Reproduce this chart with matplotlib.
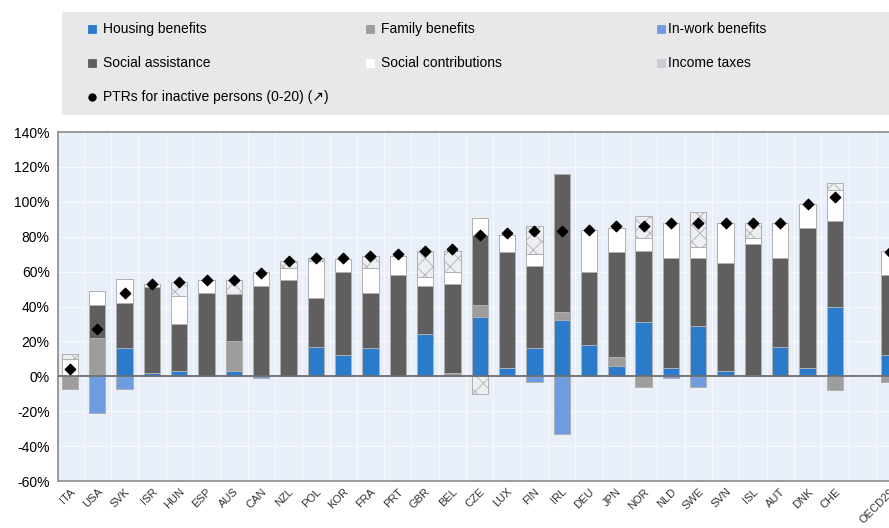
import matplotlib.pyplot as plt
from matplotlib.patches import Rectangle
import numpy as np

plt.rcParams['font.family'] = ['Liberation Sans Narrow', 'Liberation Sans', 'DejaVu Sans']
plt.rcParams['hatch.color'] = '#8d9bb3'
plt.rcParams['hatch.linewidth'] = 0.6

countries = ['ITA', 'USA', 'SVK', 'ISR', 'HUN', 'ESP', 'AUS', 'CAN', 'NZL', 'POL',
             'KOR', 'FRA', 'PRT', 'GBR', 'BEL', 'CZE', 'LUX', 'FIN', 'IRL', 'DEU',
             'JPN', 'NOR', 'NLD', 'SWE', 'SVN', 'ISL', 'AUT', 'DNK', 'CHE', 'OECD29']

housing = [0, 0, 16, 2, 3, 0, 3, 0, 0, 17, 12, 16, 0, 24, 0, 34, 5, 16, 32, 18,
           6, 31, 5, 29, 3, 1, 17, 5, 40, 12]
family = [-7, 22, 0, 0, 0, 0, 17, 0, 0, 0, 0, 0, 0, 0, 2, 7, 0, 0, 5, 0,
          5, -6, 0, 0, 0, 0, 0, 0, -8, -3]
inwork = [0, -21, -7, 0, 0, 0, 0, -1, 0, 0, 0, 0, 0, 0, 0, 0, 0, -3, -33, 0,
          0, 0, -1, -6, 0, 0, 0, 0, 0, 0]
social_assist = [0, 19, 26, 49, 27, 48, 27, 52, 55, 28, 48, 32, 58, 28, 51, 40, 66, 47, 79, 42,
                 60, 41, 63, 39, 62, 75, 51, 80, 49, 46]
social_contrib = [10, 8, 14, 2, 16, 7, 0, 8, 7, 21, 7, 14, 11, 5, 7, 10, 10, 7, 0, 24,
                  14, 7, 20, 6, 23, 3, 20, 14, 18, 14]
income_tax = [3, 0, 0, 0, 8, 0, 8, 0, 4, 2, 0, 7, 0, 15, 12, -10, 0, 16, 0, 0,
              0, 13, 0, 20, 0, 9, 0, 0, 4, 0]
ptr_inactive = [4, 27, 48, 53, 54, 55, 55, 59, 66, 68, 68, 69, 70, 72, 73, 81, 82, 83, 83, 84,
                86, 86, 88, 88, 88, 88, 88, 99, 103, 71]

components = [
    ('Housing benefits', housing, dict(color='#2b7bcc')),
    ('Family benefits', family, dict(color='#9d9d9d')),
    ('In-work benefits', inwork, dict(color='#6f9be0')),
    ('Social assistance', social_assist, dict(color='#5f5f5f')),
    ('Social contributions', social_contrib, dict(color='white')),
    ('Income taxes', income_tax, dict(color='#eceef3', hatch='xx')),
]

x = np.array(list(range(29)) + [30])

fig = plt.figure(figsize=(8.89, 5.28), dpi=100)
ax = fig.add_axes([0.0652, 0.089, 0.94, 0.661])
ax.set_facecolor('#e9eff9')

pos_base = np.zeros(len(x))
neg_base = np.zeros(len(x))
for name, vals, style in components:
    v = np.array(vals, dtype=float)
    pos = np.where(v > 0, v, 0)
    neg = np.where(v < 0, v, 0)
    ax.bar(x, pos, 0.6, bottom=pos_base, edgecolor='#b0b0b0', linewidth=0.7, zorder=3, **style)
    ax.bar(x, neg, 0.6, bottom=neg_base, edgecolor='#b0b0b0', linewidth=0.7, zorder=3, **style)
    pos_base += pos
    neg_base += neg

ax.scatter(x, ptr_inactive, marker='D', s=28, color='black', zorder=5)

ax.set_xlim(-0.44, 30.15)
ax.set_ylim(-60, 140)
yt = np.arange(-60, 141, 20)
ax.set_yticks(yt)
ax.set_yticklabels([f'{v}%' for v in yt], fontsize=10, family=['Liberation Sans', 'DejaVu Sans'])
ax.set_xticks(x)
ax.set_xticklabels(countries, rotation=45, ha='right', rotation_mode='anchor',
                   fontsize=8, color='#333333')
ax.tick_params(length=0, pad=6)
ax.tick_params(axis='x', pad=4)

for v in yt:
    ax.axhline(v, color='#f7f9fd', lw=0.9, zorder=1)
for xv in np.arange(-0.5, 31, 1):
    ax.axvline(xv, color='#f7f9fd', lw=0.9, zorder=1)
ax.axhline(0, color='#6e6e6e', lw=1.3, zorder=4)
for s in ax.spines.values():
    s.set_color('#8a8a8a')
    s.set_linewidth(1.2)

# legend panel
fig.patches.append(Rectangle((62 / 889, 1 - 115 / 528), 1, 103 / 528, transform=fig.transFigure,
                             facecolor='#e8e8e8', edgecolor='none', zorder=0))
col_marker = [92, 370, 661]
col_text = [103, 381, 668]
rows = [29, 63, 97]
for i, (name, vals, style) in enumerate(components):
    c, r = i % 3, i // 3
    mx, my = col_marker[c], rows[r]
    mstyle = dict(style)
    if 'hatch' in mstyle:
        mstyle['hatch'] = 'xxxx'
        mstyle['color'] = '#c8ccd4'
    fig.patches.append(Rectangle(((mx - 4) / 889, 1 - (my + 4) / 528), 8 / 889, 8 / 528,
                                 transform=fig.transFigure, edgecolor='#b0b0b0', linewidth=0.6,
                                 **mstyle))
    fig.text(col_text[c] / 889, 1 - my / 528, name, fontsize=10, va='center', ha='left')
fig.lines.append(plt.Line2D([col_marker[0] / 889], [1 - rows[2] / 528], marker='o', markersize=5,
                            color='black', transform=fig.transFigure))
fig.text(col_text[0] / 889, 1 - rows[2] / 528, 'PTRs for inactive persons (0-20) (\u2197)',
         fontsize=10, va='center', ha='left')

fig.savefig('out.png', dpi=100)
